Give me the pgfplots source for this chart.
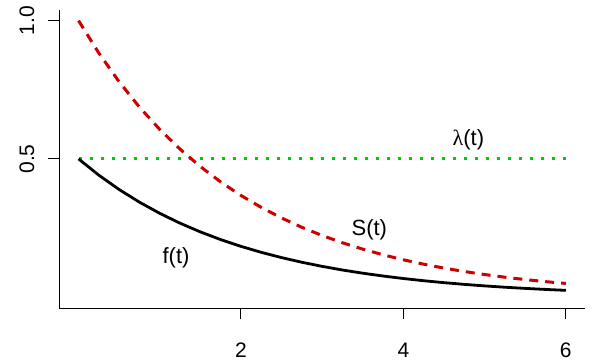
\documentclass[border=0pt]{standalone}
\usepackage{fontspec}
\setmainfont{Liberation Sans}
\newfontfamily\greekserif{Liberation Serif}
\usepackage{pgfplots}
\pgfplotsset{compat=1.18}
\definecolor{rred}{RGB}{205,0,0}
\definecolor{rgreen}{RGB}{0,205,0}
\begin{document}
\begin{tikzpicture}
\fontsize{21}{25}\selectfont
\begin{axis}[
  scale only axis,
  width=526.2pt, height=298.7pt,
  xmin=-0.24, xmax=6.24, ymin=-0.04, ymax=1.04,
  axis x line*=bottom, axis y line*=left,
  axis line style={-, line width=1pt},
  xtick={2,4,6}, ytick={0.5,1.0},
  xticklabels={2,4,6}, yticklabels={0.5,1.0},
  tick align=outside, major tick length=11pt,
  tick style={black, line width=1pt},
  xticklabel style={font=\fontsize{21}{25}\selectfont, anchor=base, yshift=-38pt},
  yticklabel style={font=\fontsize{21}{25}\selectfont, rotate=90, anchor=base, yshift=14pt},
  clip=false,
]
\addplot[rgreen, line width=3pt, dash pattern=on 3pt off 8pt] coordinates {(0,0.5) (6,0.5)};
\addplot[rred, line width=3pt, dash pattern=on 9pt off 7pt] coordinates {
(0,1.0000) (0.25,0.8825) (0.5,0.7788) (0.75,0.6873) (1.0,0.6065) (1.25,0.5353)
(1.5,0.4724) (1.75,0.4169) (2.0,0.3679) (2.25,0.3247) (2.5,0.2865) (2.75,0.2528)
(3.0,0.2231) (3.25,0.1969) (3.5,0.1738) (3.75,0.1534) (4.0,0.1353) (4.25,0.1194)
(4.5,0.1054) (4.75,0.0930) (5.0,0.0821) (5.25,0.0724) (5.5,0.0639) (5.75,0.0564) (6.0,0.0498)};
\addplot[black, line width=2.8pt] coordinates {
(0,0.5000) (0.25,0.4412) (0.5,0.3894) (0.75,0.3436) (1.0,0.3033) (1.25,0.2676)
(1.5,0.2362) (1.75,0.2084) (2.0,0.1839) (2.25,0.1623) (2.5,0.1433) (2.75,0.1264)
(3.0,0.1116) (3.25,0.0984) (3.5,0.0869) (3.75,0.0767) (4.0,0.0677) (4.25,0.0597)
(4.5,0.0527) (4.75,0.0465) (5.0,0.0410) (5.25,0.0362) (5.5,0.0320) (5.75,0.0282) (6.0,0.0249)};
\node[font=\fontsize{22}{26}\selectfont] at (axis cs:4.8,0.570) {{\greekserif λ}(t)};
\node[font=\fontsize{22}{26}\selectfont] at (axis cs:3.58,0.244) {S(t)};
\node[font=\fontsize{22}{26}\selectfont] at (axis cs:1.20,0.143) {f(t)};
\end{axis}
\pgfresetboundingbox
\path (current axis.south west) ++(-59.1pt,-53.7pt) rectangle ++(606pt,362pt);
\end{tikzpicture}
\end{document}
